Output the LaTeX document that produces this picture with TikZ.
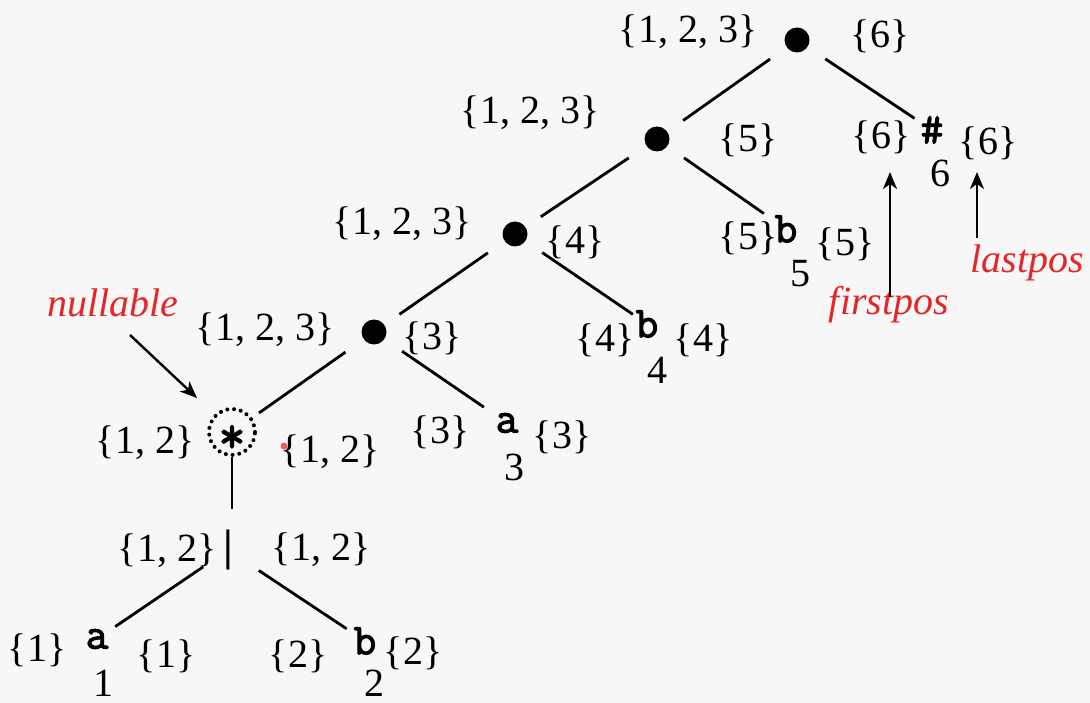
\documentclass[tikz,border=0pt]{standalone}
\usepackage{fontspec}
\setmainfont{Liberation Serif}
\newfontfamily\monob[FakeBold=2.5]{Latin Modern Mono}
\usetikzlibrary{arrows.meta}
\definecolor{bgc}{RGB}{247,247,247}
\definecolor{notered}{RGB}{228,38,38}
\begin{document}
\begin{tikzpicture}[x=1pt,y=-1pt,
  lab/.style={inner sep=0pt, font=\fontsize{40}{44}\selectfont},
  sym/.style={inner sep=0pt, font=\monob\fontsize{44}{48}\selectfont},
  cat/.style={circle, fill=black, minimum size=25pt, inner sep=0pt},
  link/.style={line width=2.8pt},
  note/.style={inner sep=0pt, text=notered, font=\itshape\fontsize{40}{44}\selectfont},
  arr/.style={line width=2.4pt, -{Stealth[length=17pt,width=14pt,inset=5pt]}}]
\fill[bgc] (0,0) rectangle (1090,703);
\useasboundingbox (0,0) rectangle (1090,703);

% operator nodes
\node[cat] (n1) at (797,40) {};
\node[cat] (n2) at (657,139) {};
\node[cat] (n3) at (515,234) {};
\node[cat] (n4) at (374,332) {};
\node[circle, draw, line width=4pt, line cap=round, dash pattern=on 0pt off 6.8pt,
      minimum size=46pt, inner sep=0pt] (star) at (232,432) {};
\node[sym, font=\monob\fontsize{52}{56}\selectfont] (starsym) at (232,439) {*};
\node[inner sep=0pt, font=\bfseries\fontsize{44}{48}\selectfont] (bar) at (228,550) {|};

% leaves
\node[sym] (hash) at (932,130) {\#};
\node[sym] (b5) at (786,229) {b};
\node[sym] (b4) at (647,324) {b};
\node[sym] (a3) at (507,423) {a};
\node[sym] (a1) at (97,639) {a};
\node[sym] (b2) at (365,641) {b};

% position numbers
\node[lab] (p6) at (940,173) {6};
\node[lab] (p5) at (800,274) {5};
\node[lab] (p4) at (657,370) {4};
\node[lab] (p3) at (514,467) {3};
\node[lab] (p1) at (103,683) {1};
\node[lab] (p2) at (374,683) {2};

% firstpos / lastpos labels
\node[lab] (f1) at (688,32) {\{1, 2, 3\}};
\node[lab] (l1) at (880,36) {\{6\}};
\node[lab] (f2) at (530,113) {\{1, 2, 3\}};
\node[lab] (l2) at (748,140) {\{5\}};
\node[lab] (fh) at (881,137) {\{6\}};
\node[lab] (lh) at (988,143) {\{6\}};
\node[lab] (f3) at (402,224) {\{1, 2, 3\}};
\node[lab] (l3) at (575,242) {\{4\}};
\node[lab] (fb5) at (748,238) {\{5\}};
\node[lab] (lb5) at (845,244) {\{5\}};
\node[lab] (f4) at (265,330) {\{1, 2, 3\}};
\node[lab] (l4) at (432,338) {\{3\}};
\node[lab] (fb4) at (605,340) {\{4\}};
\node[lab] (lb4) at (703,340) {\{4\}};
\node[lab] (fs) at (145,443) {\{1, 2\}};
\node[lab] (ls) at (330,452) {\{1, 2\}};
\node[lab] (fa3) at (440,432) {\{3\}};
\node[lab] (la3) at (562,437) {\{3\}};
\node[lab] (fbar) at (167,551) {\{1, 2\}};
\node[lab] (lbar) at (321,550) {\{1, 2\}};
\node[lab] (fa1) at (37,650) {\{1\}};
\node[lab] (la1) at (166,656) {\{1\}};
\node[lab] (fb2) at (298,656) {\{2\}};
\node[lab] (lb2) at (413,653) {\{2\}};

% pointer dot
\node[circle, fill=notered!75, minimum size=7pt, inner sep=0pt] (cursor) at (284,446) {};

% tree edges
\draw[link, shorten <=33pt, shorten >=32pt] (n1.center) -- (n2.center);
\draw[link, shorten <=34pt, shorten >=21pt] (n1.center) -- (hash.center);
\draw[link, shorten <=34pt, shorten >=31pt] (n2.center) -- (n3.center);
\draw[link, shorten <=33pt, shorten >=27pt] (n2.center) -- (b5.center);
\draw[link, shorten <=33pt, shorten >=31pt] (n3.center) -- (n4.center);
\draw[link, shorten <=33pt, shorten >=17pt] (n3.center) -- (b4.center);
\draw[link, shorten <=35pt, shorten >=33pt] (n4.center) -- (star.center);
\draw[link, shorten <=34pt, shorten >=28pt] (n4.center) -- (a3.center);
\draw[link, shorten >=21pt] (star.south) -- (star.south |- bar.north);
\draw[link, shorten <=30pt, shorten >=22pt] (bar.center) -- (a1.center);
\draw[link, shorten <=37pt, shorten >=22pt] (bar.center) -- (b2.center);

% annotations
\node[note] (nullable) at (113,303) {nullable};
\node[note, anchor=base] (firstpos) at (889,315) {firstpos};
\node[note, anchor=base] (lastpos) at (1027,273) {lastpos};
\coordinate (nullfrom) at (130,335);
\coordinate (nullto) at (197,398);
\coordinate (fpfrom) at (890,297);
\coordinate (fpto) at (890,172);
\coordinate (lpfrom) at (977,238);
\coordinate (lpto) at (977,172);
\draw[arr] (nullfrom) -- (nullto);
\draw[arr] (fpfrom) -- (fpto);
\draw[arr] (lpfrom) -- (lpto);
\end{tikzpicture}
\end{document}
